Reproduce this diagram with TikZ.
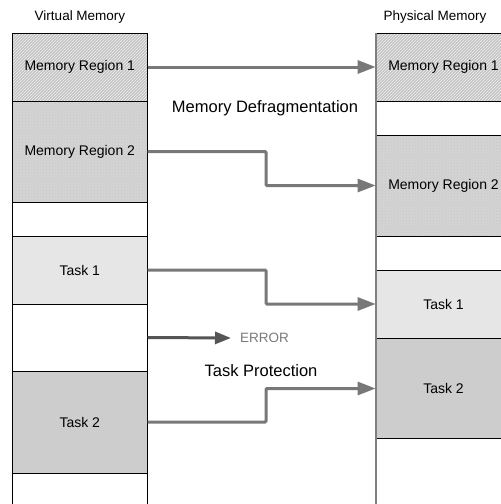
\documentclass[tikz,border=0pt]{standalone}
\usepackage{fontspec}
\setmainfont{Liberation Sans}
\usetikzlibrary{arrows.meta,patterns}
\definecolor{conncol}{RGB}{120,120,120}
\definecolor{errcol}{RGB}{85,85,85}
\definecolor{hatchfill}{RGB}{196,196,196}
\definecolor{dotfill}{RGB}{212,212,212}
\definecolor{taskone}{RGB}{230,230,230}
\definecolor{tasktwo}{RGB}{205,205,205}
\begin{document}
\begin{tikzpicture}[x=1pt,y=-1pt,
  region/.style={rectangle, draw=black, line width=0.7pt, minimum width=135pt,
    inner sep=0pt, font=\fontsize{14}{16}\selectfont},
  hatched/.style={preaction={fill=hatchfill}, pattern=north east lines, pattern color=white!75!hatchfill},
  dotted region/.style={preaction={fill=dotfill}, pattern=crosshatch dots, pattern color=gray!45},
  conn/.style={draw=conncol, line width=3pt, rounded corners=1pt,
    -{Triangle[length=18pt,width=13pt]}},
  errconn/.style={draw=errcol, line width=3pt, -{Triangle[length=16pt,width=12pt]}},
  head/.style={font=\fontsize{13.5}{16}\selectfont},
  title/.style={font=\fontsize{16.5}{19}\selectfont},
]
\useasboundingbox (0,0) rectangle (501,504);
\clip (0,0) rectangle (501,504);
% headers
\node[head] (vhead) at (80,17) {Virtual Memory};
\node[head] (phead) at (435,17) {Physical Memory};
% virtual memory column
\node[region, hatched, minimum height=68pt] (vR1) at (79.75,67) {Memory Region 1};
\node[region, dotted region, minimum height=101pt] (vR2) at (79.75,151.5) {Memory Region 2};
\node[region, fill=white, minimum height=34pt] (vG1) at (79.75,219) {};
\node[region, fill=taskone, minimum height=68pt] (vT1) at (79.75,270) {Task 1};
\node[region, fill=white, minimum height=67pt] (vG2) at (79.75,337.5) {};
\node[region, fill=tasktwo, minimum height=102pt] (vT2) at (79.75,422) {Task 2};
\node[region, fill=white, minimum height=40pt] (vG3) at (79.75,493) {};
% physical memory column
\node[region, hatched, minimum height=68pt] (pR1) at (443.5,67) {Memory Region 1};
\node[region, fill=white, minimum height=34pt] (pG1) at (443.5,118) {};
\node[region, dotted region, minimum height=101pt] (pR2) at (443.5,185.5) {Memory Region 2};
\node[region, fill=white, minimum height=34pt] (pG2) at (443.5,253) {};
\node[region, fill=taskone, minimum height=68pt] (pT1) at (443.5,304) {Task 1};
\node[region, fill=tasktwo, minimum height=101pt] (pT2) at (443.5,388.5) {Task 2};
\node[region, fill=white, minimum height=75pt] (pG3) at (443.5,476) {};
\draw[draw=gray, line width=2pt] (pR1.north west) -- (pG3.south west);
% captions
\node[title] (defrag) at (265,108) {Memory Defragmentation};
\node[title] (prot) at (261,371) {Task Protection};
\node[head, text=gray!95!black, anchor=west, inner sep=0pt] (err) at (240,338) {ERROR};
% connectors
\draw[conn] (vR1.east) -- (pR1.west);
\draw[conn] (vR2.east) -- ++(118.5,0) |- (pR2.west);
\draw[conn] (vT1.east) -- ++(118.5,0) |- (pT1.west);
\draw[conn] (vT2.east) -- ++(118.5,0) |- (pT2.west);
\draw[errconn] (vG2.east) -- ([xshift=-9pt]err.west);
\end{tikzpicture}
\end{document}
